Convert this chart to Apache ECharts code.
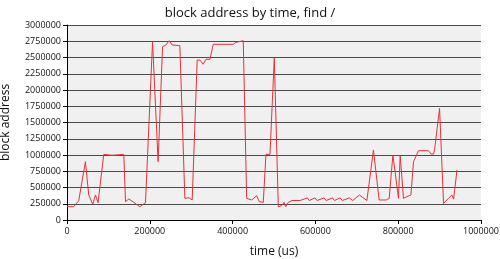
<!DOCTYPE html>
<html>
<head>
<meta charset="utf-8">
<script src="https://cdn.jsdelivr.net/npm/echarts@6/dist/echarts.min.js"></script>
<style>html,body{margin:0;padding:0;background:#fff}#c{width:500px;height:259px}</style>
</head>
<body>
<div id="c"></div>
<script>
var times = [0,16200,28300,44500,52500,62200,68700,75000,88800,108900,137200,141300,149300,161400,175900,189600,194000,206600,220100,230800,238800,246700,254000,272600,284700,295100,302400,314500,321000,329000,335500,345200,353200,401600,408100,425700,428700,434000,446100,450500,458200,464500,468600,474100,480600,490300,500700,510400,518600,524200,528300,534600,543600,563000,580600,585000,599200,604000,621000,626000,641000,646000,659700,665000,682200,690000,706400,724300,740200,754000,771000,778200,787200,800700,804800,812800,821000,830700,837000,849100,873300,879100,885400,887800,899900,909500,921700,929900,933800,942000];
var addresses = [205000,205000,297000,897000,385000,241000,385000,266000,1010000,996000,1010000,282000,323000,270000,205000,266000,256000,2743000,897000,2666000,2692000,2758000,2692000,2682000,333000,343000,308000,2461000,2461000,2395000,2472000,2472000,2703000,2703000,2733000,2758000,2758000,333000,308000,320000,374000,282000,300000,272000,1010000,1010000,2497000,205000,220000,272000,205000,272000,300000,300000,340000,300000,340000,300000,340000,300000,340000,300000,340000,300000,340000,300000,385000,300000,1077000,308000,308000,333000,1000000,333000,1000000,333000,359000,385000,897000,1066000,1066000,1015000,1015000,1080000,1718000,256000,333000,385000,320000,769000];
var yTicks = [0,250000,500000,750000,1000000,1250000,1500000,1750000,2000000,2250000,2500000,2750000,3000000];
var xTicks = [0,200000,400000,600000,800000,1000000];
var titleText = 'block address by time, find /';
var xName = 'time (us)';
var yName = 'block address';

var pts = times.map(function(t,i){return [t, addresses[i]];});
var font = 'Open Sans';
var plain = function(v){return String(v);};
var chart = echarts.init(document.getElementById('c'), null, {renderer:'canvas'});
chart.setOption({
  animation:false,
  backgroundColor:'#ffffff',
  title:{text:titleText,left:'center',top:2,textStyle:{fontFamily:font,fontSize:13,fontWeight:'normal',color:'#111'}},
  grid:{left:67,right:19,top:25,bottom:39,show:true,backgroundColor:'#f0f0f0',borderWidth:0,containLabel:false,outerBoundsMode:'none'},
  xAxis:{type:'value',min:xTicks[0],max:xTicks[xTicks.length-1],interval:200000,
    name:xName,nameLocation:'middle',nameGap:26,nameTextStyle:{fontFamily:font,fontSize:12,color:'#111'},
    axisLine:{show:true,lineStyle:{color:'#000',width:1}},
    axisTick:{show:true,length:4,lineStyle:{color:'#000'}},
    axisLabel:{fontFamily:font,fontSize:9,color:'#111',margin:7,formatter:plain},
    splitLine:{show:false}},
  yAxis:{type:'value',min:yTicks[0],max:yTicks[yTicks.length-1],interval:250000,
    name:yName,nameLocation:'middle',nameGap:55,nameRotate:90,nameTextStyle:{fontFamily:font,fontSize:12,color:'#111'},
    axisLine:{show:true,lineStyle:{color:'#000',width:1}},
    axisTick:{show:true,length:4,lineStyle:{color:'#000'}},
    axisLabel:{fontFamily:font,fontSize:9,color:'#111',margin:6,formatter:plain},
    splitLine:{show:true,lineStyle:{color:'#4a4a4a',width:1.2}}},
  series:[{type:'line',data:pts,showSymbol:false,symbol:'none',lineStyle:{color:'#e8303a',width:1},z:3}]
});
</script>
</body>
</html>
